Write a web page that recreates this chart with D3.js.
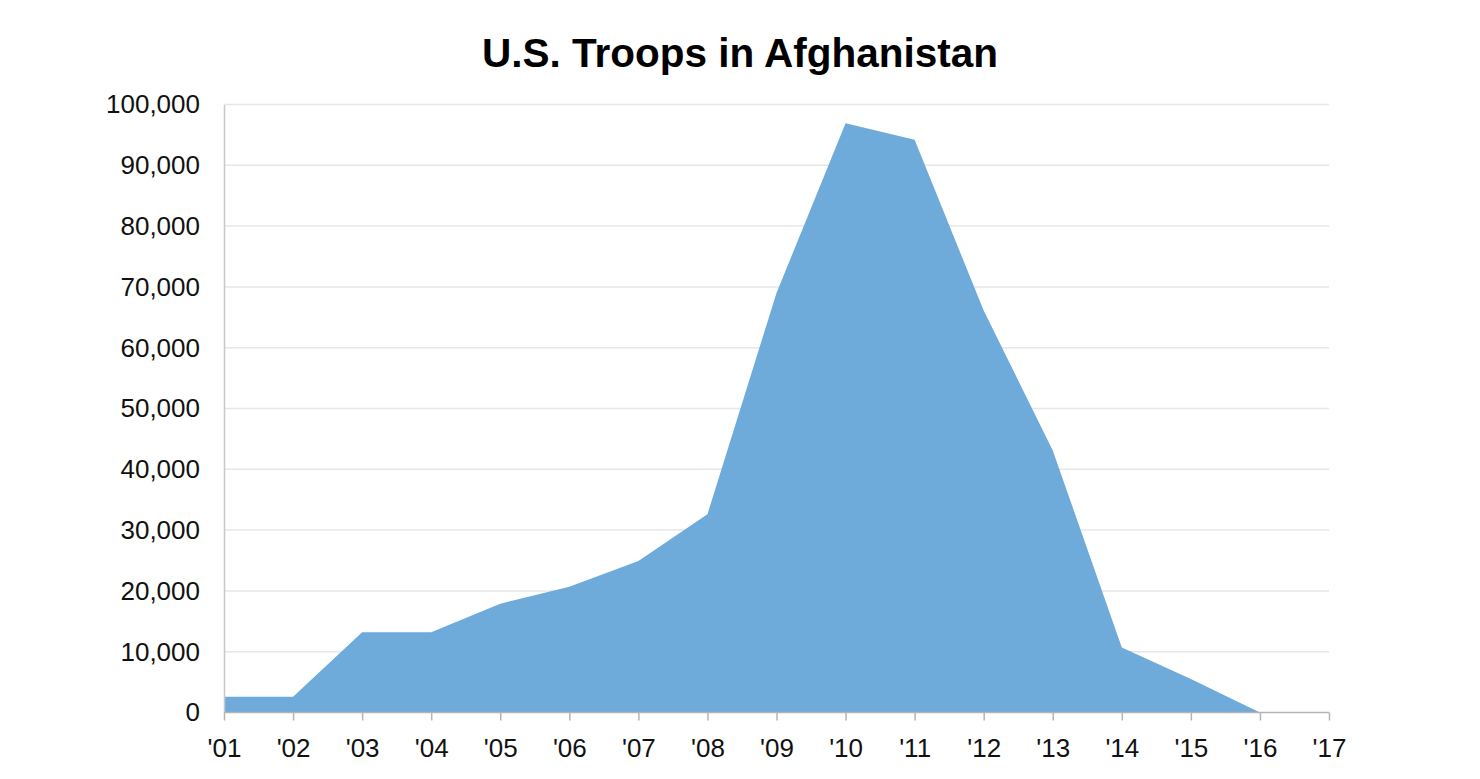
<!DOCTYPE html>
<html>
<head>
<meta charset="utf-8">
<script src="https://cdn.jsdelivr.net/npm/d3@7"></script>
<style>
  body { margin: 0; background: #fff; }
  svg { display: block; font-family: "Liberation Sans", Arial, sans-serif; }
</style>
</head>
<body>
<svg width="1480" height="779"></svg>
<script>
const years = ['01','02','03','04','05','06','07','08','09','10','11','12','13','14','15','16','17'];
const troops = [2600, 2600, 13200, 13200, 17900, 20700, 24900, 32600, 69000, 96900, 94200, 66100, 43100, 10700, 5500, 0];
const yTicks = [0, 10000, 20000, 30000, 40000, 50000, 60000, 70000, 80000, 90000, 100000];

const margin = { top: 104.5, right: 151, bottom: 66.5, left: 224 };
const width = 1480 - margin.left - margin.right;
const height = 779 - margin.top - margin.bottom;

const svg = d3.select('svg');

svg.append('text')
  .attr('x', 740)
  .attr('y', 67)
  .attr('text-anchor', 'middle')
  .attr('font-size', 40.5)
  .attr('font-weight', 'bold')
  .attr('fill', '#000')
  .text('U.S. Troops in Afghanistan');

const g = svg.append('g')
  .attr('transform', `translate(${margin.left},${margin.top})`);

const x = d3.scalePoint()
  .domain(years)
  .range([0, width]);

const y = d3.scaleLinear()
  .domain([0, 100000])
  .range([height, 0]);

// gridlines
g.append('g')
  .selectAll('line')
  .data(yTicks.slice(1))
  .enter().append('line')
  .attr('x1', 0)
  .attr('x2', width)
  .attr('y1', d => y(d))
  .attr('y2', d => y(d))
  .attr('stroke', '#e6e6e6')
  .attr('stroke-width', 1.5);

// area
const area = d3.area()
  .x((d, i) => x(years[i]))
  .y0(height)
  .y1(d => y(d));

g.append('path')
  .datum(troops)
  .attr('fill', '#6eabdb')
  .attr('d', area);

// y axis
const yAxis = g.append('g')
  .attr('font-size', 26)
  .call(d3.axisLeft(y).tickValues(yTicks).tickSize(0).tickPadding(24)
    .tickFormat(d3.format(',')));
yAxis.attr('font-size', 26).attr('font-family', '"Liberation Sans", Arial, sans-serif');
yAxis.select('.domain').attr('stroke', '#c8c8c8').attr('stroke-width', 1.5);
yAxis.selectAll('text').attr('fill', '#111');

// x axis
const xAxis = g.append('g')
  .attr('transform', `translate(0,${height})`)
  .call(d3.axisBottom(x).tickSize(8).tickPadding(18).tickFormat(d => "'" + d));
xAxis.attr('font-size', 26).attr('font-family', '"Liberation Sans", Arial, sans-serif');
xAxis.select('.domain').attr('stroke', '#b4b4b4').attr('stroke-width', 1.5)
  .attr('d', `M0,0H${width}`);
xAxis.selectAll('.tick line').attr('stroke', '#b4b4b4').attr('stroke-width', 1.5);
xAxis.selectAll('text').attr('fill', '#111');
</script>
</body>
</html>
